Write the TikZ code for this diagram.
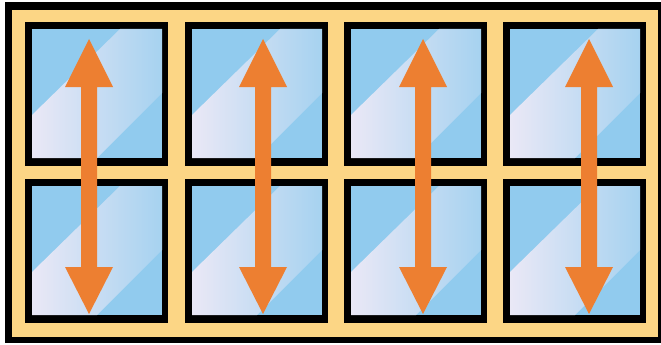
\documentclass[tikz,border=0pt]{standalone}
\definecolor{frameyellow}{RGB}{252,214,133}
\definecolor{glassblue}{RGB}{145,203,238}
\definecolor{glasslight}{RGB}{234,232,246}
\definecolor{glassmid}{RGB}{166,210,240}
\definecolor{arroworange}{RGB}{237,127,49}
\begin{document}
\begin{tikzpicture}[x = 1pt, y = -1pt]
\useasboundingbox (0,0) rectangle (661,345);
\clip (0,0) rectangle (661,345);
\fill[white] (0,0) rectangle (661,345);
\fill[black] (5,2) rectangle (668,343);
\fill[frameyellow] (12,10) rectangle (658,337);
\foreach \x in {25, 185, 344, 503} {
\foreach \y in {22, 179} {
\begin{scope} [shift = {(\x,\y)}]
\fill[black] (0,0) rectangle (143,144);
\fill[glassblue] (7,7) rectangle (137,136);
\shade[left color = glasslight, right color = glassmid] (7,93) -- (95,7) -- (137,7) -- (137,71) -- (72,136) -- (7,136) -- cycle;
\end{scope}
}
}
\foreach \a in {89, 263, 423, 589} {
\fill[arroworange] (\a,39) -- (\a+24,87) -- (\a+8,87) -- (\a+8,267) -- (\a+24,267) -- (\a,314) -- (\a-24,267) -- (\a-8,267) -- (\a-8,87) -- (\a-24,87) -- cycle;
}
\end{tikzpicture}
\end{document}
